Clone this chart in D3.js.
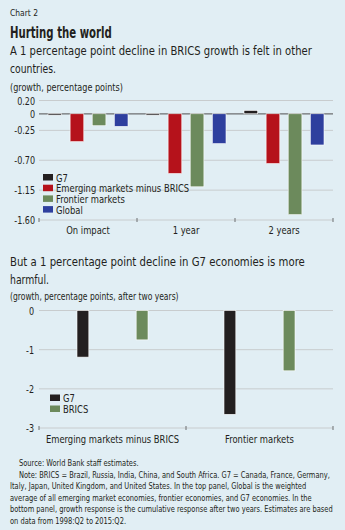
<!DOCTYPE html>
<html>
  <head>
    <script src="https://cdnjs.cloudflare.com/ajax/libs/d3/7.8.5/d3.min.js"></script>
    <style>
      body,
      html {
        margin: 0;
        padding: 0;
        overflow: hidden;
        background: #e1eef4;
      }
      svg text {
        font-family: "DejaVu Sans Condensed", "DejaVu Sans", sans-serif;
        font-stretch: condensed;
        fill: #231f20;
      }
    </style>
  </head>
  <body>
    <svg id="chart" width="345" height="530"></svg>
    <script>
      // top panel data
      var topGroups = ["On impact", "1 year", "2 years"];
      var topSeries = ["G7", "Emerging markets minus BRICS", "Frontier markets", "Global"];
      var g7Vals = [-0.02, -0.02, 0.05];
      var emVals = [-0.42, -0.9, -0.75];
      var frontierVals = [-0.18, -1.1, -1.52];
      var globalVals = [-0.19, -0.45, -0.47];
      var topTicks = [0.2, 0, -0.25, -0.7, -1.15, -1.6];

      // bottom panel data
      var botGroups = ["Emerging markets minus BRICS", "Frontier markets"];
      var botSeries = ["G7", "BRICS"];
      var botG7 = [-1.19, -2.65];
      var botBrics = [-0.75, -1.54];
      var botTicks = [0, -1, -2, -3];

      var colors = {
        G7: "#231f20",
        "Emerging markets minus BRICS": "#b5121b",
        "Frontier markets": "#6c8a5c",
        Global: "#2e3f9e",
        BRICS: "#6c8a5c",
      };

      var svg = d3.select("#chart");
      svg.append("rect").attr("width", 345).attr("height", 530).attr("fill", "#e1eef4");

      // condensed text: squeeze horizontally around its anchor point
      function label(parent, x, y, s, size, opts) {
        opts = opts || {};
        var t = parent
          .append("text")
          .attr("x", 0)
          .attr("y", 0)
          .attr("font-size", size)
          .attr("font-weight", opts.weight || "normal")
          .attr("text-anchor", opts.anchor || "start")
          .text(s);
        var sx = opts.sx || 0.85;
        if (opts.width) sx = opts.width / t.node().getComputedTextLength();
        t.attr("transform", "translate(" + x + "," + y + ") scale(" + sx + ",1)");
        return t;
      }

      // headings
      label(svg, 10, 16, "Chart 2", 9.5, { width: 28 });
      label(svg, 10, 38, "Hurting the world", 15, { weight: "bold", width: 102 });
      label(svg, 10, 55, "A 1 percentage point decline in BRICS growth is felt in other", 13, { width: 302 });
      label(svg, 10, 73, "countries.", 13, { width: 46 });
      label(svg, 10, 91, "(growth, percentage points)", 10.5, { width: 113 });

      var left = 39,
        right = 333;

      // ---- top panel
      var y1 = d3.scaleLinear().domain([0.2, -1.6]).range([100.5, 220]);
      var x1 = d3.scaleBand().domain(topGroups).range([left, right]);
      var xs1 = d3.scaleBand().domain(topSeries).range([9, 89]).paddingInner(0.38);

      var topPanel = svg.append("g");
      topPanel
        .selectAll(".grid")
        .data(topTicks.filter((d) => d !== -1.6))
        .enter()
        .append("line")
        .attr("x1", left)
        .attr("x2", right)
        .attr("y1", (d) => y1(d))
        .attr("y2", (d) => y1(d))
        .attr("stroke", (d) => (d === 0 ? "#6d6e71" : "#c8ccce"))
        .attr("stroke-width", (d) => (d === 0 ? 1.2 : 1));

      topTicks.forEach(function (d) {
        label(topPanel, 35, y1(d) + 4, d === 0 ? "0" : d.toFixed(2), 10.5, { anchor: "end" });
      });

      var topData = [];
      topGroups.forEach(function (g, i) {
        topData.push({ g: g, s: "G7", v: g7Vals[i] });
        topData.push({ g: g, s: "Emerging markets minus BRICS", v: emVals[i] });
        topData.push({ g: g, s: "Frontier markets", v: frontierVals[i] });
        topData.push({ g: g, s: "Global", v: globalVals[i] });
      });

      topPanel
        .selectAll(".bar")
        .data(topData)
        .enter()
        .append("rect")
        .attr("x", (d) => x1(d.g) + xs1(d.s))
        .attr("width", xs1.bandwidth())
        .attr("y", (d) => Math.min(y1(d.v), y1(0)))
        .attr("height", (d) => Math.abs(y1(d.v) - y1(0)))
        .attr("fill", (d) => colors[d.s])
        .attr("stroke", "#ffffff")
        .attr("stroke-width", 0.6);

      // bottom axis
      var ax1 = topPanel.append("g").attr("transform", "translate(0," + y1(-1.6) + ")");
      ax1
        .append("line")
        .attr("x1", left)
        .attr("x2", right)
        .attr("stroke", "#c8ccce")
        .attr("stroke-width", 1);
      ax1
        .selectAll(".tk")
        .data([left].concat(topGroups.map((g) => x1(g) + x1.bandwidth())))
        .enter()
        .append("line")
        .attr("x1", (d) => d)
        .attr("x2", (d) => d)
        .attr("y1", -2)
        .attr("y2", 2)
        .attr("stroke", "#6d6e71");
      topGroups.forEach(function (g) {
        label(ax1, x1(g) + x1.bandwidth() / 2, 14, g, 11, { anchor: "middle" });
      });

      // legend
      var leg1 = topPanel.append("g").attr("transform", "translate(43,174)");
      topSeries.forEach(function (s, i) {
        leg1.append("rect").attr("x", 0).attr("y", i * 10.7).attr("width", 10).attr("height", 6.5).attr("fill", colors[s]);
        label(leg1, 13, i * 10.7 + 7.5, s, 11);
      });

      // ---- bottom panel
      label(svg, 10, 266, "But a 1 percentage point decline in G7 economies is more", 13, { width: 295 });
      label(svg, 10, 284, "harmful.", 13, { width: 39 });
      label(svg, 10, 300, "(growth, percentage points, after two years)", 10.5, { width: 169 });

      var y2 = d3.scaleLinear().domain([0, -3]).range([310.5, 428]);
      var x2 = d3.scaleBand().domain(botGroups).range([left, right]);
      var xs2 = d3.scaleBand().domain(botSeries).range([38, 109]).paddingInner(0.8);

      var botPanel = svg.append("g");
      botPanel
        .selectAll(".grid")
        .data(botTicks.filter((d) => d !== -3))
        .enter()
        .append("line")
        .attr("x1", left)
        .attr("x2", right)
        .attr("y1", (d) => y2(d))
        .attr("y2", (d) => y2(d))
        .attr("stroke", "#c8ccce")
        .attr("stroke-width", 1);

      botTicks.forEach(function (d) {
        label(botPanel, 34, y2(d) + 4, String(d), 10.5, { anchor: "end" });
      });

      var botData = [];
      botGroups.forEach(function (g, i) {
        botData.push({ g: g, s: "G7", v: botG7[i] });
        botData.push({ g: g, s: "BRICS", v: botBrics[i] });
      });

      botPanel
        .selectAll(".bar")
        .data(botData)
        .enter()
        .append("rect")
        .attr("x", (d) => x2(d.g) + xs2(d.s))
        .attr("width", xs2.bandwidth())
        .attr("y", (d) => y2(0))
        .attr("height", (d) => y2(d.v) - y2(0))
        .attr("fill", (d) => colors[d.s])
        .attr("stroke", "#ffffff")
        .attr("stroke-width", 0.6);

      var ax2 = botPanel.append("g").attr("transform", "translate(0," + y2(-3) + ")");
      ax2
        .append("line")
        .attr("x1", left)
        .attr("x2", right)
        .attr("stroke", "#c8ccce")
        .attr("stroke-width", 1);
      ax2
        .selectAll(".tk")
        .data([left].concat(botGroups.map((g) => x2(g) + x2.bandwidth())))
        .enter()
        .append("line")
        .attr("x1", (d) => d)
        .attr("x2", (d) => d)
        .attr("y1", -2)
        .attr("y2", 2)
        .attr("stroke", "#6d6e71");
      botGroups.forEach(function (g) {
        label(ax2, x2(g) + x2.bandwidth() / 2, 15, g, 11, { anchor: "middle" });
      });

      var leg2 = botPanel.append("g").attr("transform", "translate(50,394.5)");
      botSeries.forEach(function (s, i) {
        leg2.append("rect").attr("x", 0).attr("y", i * 11).attr("width", 10).attr("height", 6.5).attr("fill", colors[s]);
        label(leg2, 13, i * 11 + 7.5, s, 11);
      });

      // footnotes: one shared squeeze, taken from the 4th line's width
      var notes = [
        [19, "Source: World Bank staff estimates."],
        [19, "Note: BRICS = Brazil, Russia, India, China, and South Africa. G7 = Canada, France, Germany,"],
        [10, "Italy, Japan, United Kingdom, and United States. In the top panel, Global is the weighted"],
        [10, "average of all emerging market economies, frontier economies, and G7 economies.  In the"],
        [10, "bottom panel, growth response is the cumulative response after two years. Estimates are based"],
        [10, "on data from 1998:Q2 to 2015:Q2."],
      ];
      var probe = svg.append("text").attr("font-size", 8.8).text(notes[3][1]);
      var noteSx = 302 / probe.node().getComputedTextLength();
      probe.remove();
      notes.forEach(function (n, i) {
        label(svg, n[0], 466 + i * 11.6, n[1], 8.8, { sx: noteSx });
      });
    </script>
  </body>
</html>
